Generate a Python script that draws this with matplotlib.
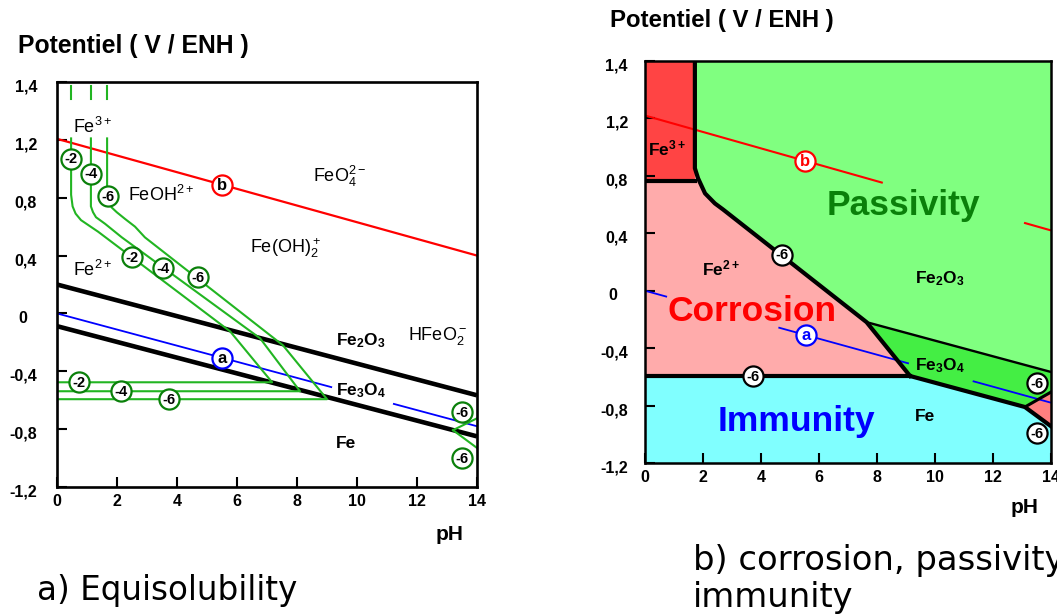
import numpy as np
import matplotlib
matplotlib.use('Agg')
import matplotlib.pyplot as plt
import matplotlib.transforms as mtransforms
from matplotlib.patches import Polygon

plt.rcParams['font.family'] = ['Liberation Sans', 'DejaVu Sans']
plt.rcParams['mathtext.default'] = 'regular'

# ---------------- shared axis values ----------------
ph_ticks = [0, 2, 4, 6, 8, 10, 12, 14]
ph_tick_labels = ['0', '2', '4', '6', '8', '10', '12', '14']
e_ticks = [-1.2, -0.8, -0.4, 0.0, 0.4, 0.8, 1.2, 1.6]
e_tick_labels = ['-1,2', '-0,8', '-0,4', '0', '0,4', '0,8', '1,2', '1,4']

# ---------------- a) Equisolubility ----------------
a_b_ph = [0, 14]
a_b_e = [1.207, 0.40]
a_a_ph = [0, 14]
a_a_e = [0.0, -0.78]
a_a_gaps = [(9.17, 11.2)]
a_ox1_ph = [0, 14]            # Fe2O3 / Fe3O4
a_ox1_e = [0.20, -0.566]
a_ox2_ph = [0, 14]            # Fe3O4 / Fe
a_ox2_e = [-0.088, -0.85]

a_vert_ph = [0.47, 1.13, 1.67]
a_vert_top_e = [1.57, 1.48]

m2_ph = [0.47, 0.47, 0.52, 0.62, 0.80, 1.37, 5.77, 7.17, 0.0]
m2_e = [1.21, 0.82, 0.74, 0.69, 0.645, 0.565, -0.124, -0.476, -0.476]
m4_ph = [1.13, 1.13, 1.20, 1.30, 1.60, 2.16, 6.77, 8.10, 0.0]
m4_e = [1.21, 0.74, 0.70, 0.665, 0.62, 0.526, -0.172, -0.538, -0.538]
m6_ph = [1.67, 1.67, 1.82, 1.99, 2.27, 2.60, 2.93, 7.53, 9.00, 0.0]
m6_e = [1.21, 0.80, 0.733, 0.70, 0.653, 0.60, 0.526, -0.22, -0.593, -0.593]
hfeo2_up_ph = [13.2, 14.0]
hfeo2_up_e = [-0.807, -0.725]
hfeo2_dn_ph = [13.2, 14.0]
hfeo2_dn_e = [-0.807, -0.93]

a_badge_ph = [0.47, 1.13, 1.70, 2.49, 3.54, 4.71, 0.73, 2.13, 3.73, 13.5, 13.5]
a_badge_e = [1.07, 0.966, 0.81, 0.388, 0.312, 0.25, -0.476, -0.538, -0.593, -0.683, -1.0]
a_badge_txt = ['-2', '-4', '-6', '-2', '-4', '-6', '-2', '-4', '-6', '-6', '-6']
a_wb_pos = (5.5, 0.89)
a_wa_pos = (5.5, -0.306)

a_label_txt = [r'Fe$^{3+}$', r'FeOH$^{2+}$', r'FeO$_4^{2-}$', r'Fe(OH)$_2^+$',
               r'Fe$^{2+}$', r'Fe$_2$O$_3$', r'HFeO$_2^-$', r'Fe$_3$O$_4$', 'Fe']
a_label_ph = [0.53, 2.37, 8.53, 6.43, 0.53, 9.3, 11.7, 9.3, 9.3]
a_label_e = [1.25, 0.78, 0.91, 0.42, 0.262, -0.22, -0.186, -0.566, -0.93]
a_label_bold = [False, False, False, False, False, True, False, True, True]

# ---------------- b) corrosion / passivity / immunity ----------------
b_b_ph = [0, 14]
b_b_e = [1.22, 0.42]
b_b_gaps = [(8.2, 13.07)]
b_a_ph = [0, 14]
b_a_e = [0.0, -0.78]
b_a_gaps = [(0.76, 4.6), (9.1, 11.3)]

fe3_poly_ph = [0, 1.72, 1.72, 0]
fe3_poly_e = [0.762, 0.762, 1.6, 1.6]
pass_bound_ph = [1.72, 1.72, 1.83, 2.07, 2.41, 2.69, 7.64, 9.14]
pass_bound_e = [1.6, 0.853, 0.783, 0.678, 0.608, 0.566, -0.219, -0.594]
immun_e = -0.594
fe_bound_ph = [9.14, 13.1, 14.0]
fe_bound_e = [-0.594, -0.81, -0.944]
ox_bound_ph = [7.64, 14.0]
ox_bound_e = [-0.219, -0.566]
hfeo2_top_ph = [13.1, 14.0]
hfeo2_top_e = [-0.81, -0.706]

b_badge_ph = [4.72, 3.72, 13.52, 13.52]
b_badge_e = [0.252, -0.594, -0.643, -0.993]
b_wb_pos = (5.52, 0.905)
b_wa_pos = (5.55, -0.309)

b_label_txt = [r'Fe$^{3+}$', r'Fe$^{2+}$', r'Fe$_2$O$_3$', r'Fe$_3$O$_4$', 'Fe']
b_label_ph = [0.1, 1.97, 9.31, 9.31, 9.31]
b_label_e = [0.944, 0.105, 0.049, -0.552, -0.91]
big_txt = ['Passivity', 'Corrosion', 'Immunity']
big_ph = [6.28, 0.76, 2.52]
big_e = [0.525, -0.21, -0.98]
big_col = ['#0a800a', '#ff0000', '#0000ff']

# ---------------- drawing ----------------
W, H = 1057, 614
fig = plt.figure(figsize=(W / 100, H / 100), dpi=100)


def px_axes(l, t, r, b):
    return fig.add_axes([l / W, 1 - b / H, (r - l) / W, (b - t) / H])


def seg_line(ax, ph, e, gaps, **kw):
    edges = [ph[0]] + [g for gap in gaps for g in gap] + [ph[-1]]
    for i in range(0, len(edges), 2):
        xs = [edges[i], edges[i + 1]]
        ax.plot(xs, np.interp(xs, ph, e), solid_capstyle='butt', **kw)


def badge(ax, x, y, txt, edge, tcol, fs=10.5):
    ax.plot([x], [y], marker='o', ms=14.5, mfc='white', mec=edge, mew=1.6,
            zorder=8, clip_on=False)
    ax.text(x, y - 0.005, txt, ha='center', va='center', fontsize=fs,
            fontweight='bold', color=tcol, zorder=9)


def setup(ax, lw, ylab_right, zero_center):
    ax.set_xlim(0, 14)
    ax.set_ylim(-1.2, 1.6)
    ax.set_xticks(ph_ticks)
    ax.set_xticklabels(ph_tick_labels, fontsize=11.5, fontweight='bold')
    ax.set_yticks(e_ticks)
    ax.tick_params(labelleft=False)
    ax.tick_params(direction='in', length=7, width=1.5, pad=5.2)
    for s in ax.spines.values():
        s.set_linewidth(lw)
        s.set_zorder(10)
    for v, lab in zip(e_ticks, e_tick_labels):
        if lab == '0':
            off = mtransforms.ScaledTranslation(-zero_center / 100, -5 / 100, fig.dpi_scale_trans)
            ha = 'center'
        else:
            off = mtransforms.ScaledTranslation(-ylab_right / 100, -5 / 100, fig.dpi_scale_trans)
            ha = 'right'
        ax.text(0, v, lab, transform=ax.get_yaxis_transform() + off, ha=ha,
                va='center', fontsize=11.5, fontweight='bold')


GREEN = '#22b522'
GREEN_DK = '#0a800a'

# ----- left panel -----
axa = px_axes(57, 82, 477, 487)
setup(axa, 1.9, 20, 34)
axa.plot(a_b_ph, a_b_e, color='#ff0000', lw=1.6)
seg_line(axa, a_a_ph, a_a_e, a_a_gaps, color='#0000ff', lw=1.3)
axa.plot(a_ox1_ph, a_ox1_e, color='black', lw=3.3, solid_capstyle='butt')
axa.plot(a_ox2_ph, a_ox2_e, color='black', lw=3.3, solid_capstyle='butt')
for p in a_vert_ph:
    axa.plot([p, p], a_vert_top_e, color=GREEN, lw=1.5)
for xs, ys in [(m2_ph, m2_e), (m4_ph, m4_e), (m6_ph, m6_e),
               (hfeo2_up_ph, hfeo2_up_e), (hfeo2_dn_ph, hfeo2_dn_e)]:
    axa.plot(xs, ys, color=GREEN, lw=1.5, solid_joinstyle='round')
for x, y, t in zip(a_badge_ph, a_badge_e, a_badge_txt):
    badge(axa, x, y, t, GREEN_DK, 'black')
badge(axa, *a_wb_pos, 'b', '#ff0000', 'black', fs=12)
badge(axa, *a_wa_pos, 'a', '#0000ff', 'black', fs=12)
for t, x, y, bd in zip(a_label_txt, a_label_ph, a_label_e, a_label_bold):
    axa.text(x, y, t, ha='left', va='baseline', fontsize=12.5 if bd else 13,
             fontweight='bold' if bd else 'normal', zorder=7)

# ----- right panel -----
axb = px_axes(645, 61, 1051, 463)
setup(axb, 1.8, 17, 32)
axb.set_facecolor('#80ff80')
corr_ph = [0, 1.72] + pass_bound_ph[1:] + [0]
corr_e = [0.762, 0.762] + pass_bound_e[1:] + [immun_e]
imm_ph = [0, 14] + fe_bound_ph[::-1] + [0]
imm_e = [-1.2, -1.2] + fe_bound_e[::-1] + [immun_e]
fe3o4_ph = [ox_bound_ph[0], ox_bound_ph[1], hfeo2_top_ph[1], fe_bound_ph[1], fe_bound_ph[0]]
fe3o4_e = [ox_bound_e[0], ox_bound_e[1], hfeo2_top_e[1], fe_bound_e[1], fe_bound_e[0]]
hf_ph = [fe_bound_ph[1], hfeo2_top_ph[1], fe_bound_ph[2]]
hf_e = [fe_bound_e[1], hfeo2_top_e[1], fe_bound_e[2]]
for xs, ys, col in [(fe3_poly_ph, fe3_poly_e, '#ff4444'), (corr_ph, corr_e, '#ffabab'),
                    (imm_ph, imm_e, '#80ffff'), (fe3o4_ph, fe3o4_e, '#44ee44'),
                    (hf_ph, hf_e, '#ff8080')]:
    axb.add_patch(Polygon(np.column_stack([xs, ys]), closed=True, facecolor=col,
                          edgecolor='none', zorder=1))
seg_line(axb, b_b_ph, b_b_e, b_b_gaps, color='#ff0000', lw=1.5, zorder=3)
seg_line(axb, b_a_ph, b_a_e, b_a_gaps, color='#0000ff', lw=1.3, zorder=3)
axb.plot(pass_bound_ph, pass_bound_e, color='black', lw=3.0, zorder=4, solid_joinstyle='round')
axb.plot([0, 1.72], [0.762, 0.762], color='black', lw=3.0, zorder=4)
axb.plot([0, pass_bound_ph[-1]], [immun_e, immun_e], color='black', lw=3.0, zorder=4)
axb.plot(fe_bound_ph, fe_bound_e, color='black', lw=3.0, zorder=4)
axb.plot(ox_bound_ph, ox_bound_e, color='black', lw=1.7, zorder=4)
axb.plot(hfeo2_top_ph, hfeo2_top_e, color='black', lw=2.2, zorder=4)
for x, y in zip(b_badge_ph, b_badge_e):
    badge(axb, x, y, '-6', 'black', 'black')
badge(axb, *b_wb_pos, 'b', '#ff0000', '#ff0000', fs=12)
badge(axb, *b_wa_pos, 'a', '#0000ff', '#0000ff', fs=12)
for t, x, y in zip(b_label_txt, b_label_ph, b_label_e):
    axb.text(x, y, t, ha='left', va='baseline', fontsize=12.5, fontweight='bold', zorder=7)
for t, x, y, c in zip(big_txt, big_ph, big_e, big_col):
    axb.text(x, y, t, ha='left', va='baseline', fontsize=25.5, fontweight='bold',
             color=c, zorder=7)

# ----- figure texts -----
fig.text(18 / W, 1 - 46 / H, 'Potentiel ( V / ENH )', ha='left', va='center',
         fontsize=17.8, fontweight='bold')
fig.text(610 / W, 1 - 20 / H, 'Potentiel ( V / ENH )', ha='left', va='center',
         fontsize=17.3, fontweight='bold')
fig.text(450 / W, 1 - 540 / H, 'pH', ha='center', va='baseline', fontsize=15, fontweight='bold')
fig.text(1025 / W, 1 - 513 / H, 'pH', ha='center', va='baseline', fontsize=15, fontweight='bold')
fig.text(37 / W, 1 - 600 / H, 'a) Equisolubility', ha='left', va='baseline',
         fontsize=23.5, family='DejaVu Sans')
fig.text(693 / W, 1 - 570 / H, 'b) corrosion, passivity,', ha='left', va='baseline',
         fontsize=24.3, family='DejaVu Sans')
fig.text(693 / W, 1 - 607 / H, 'immunity', ha='left', va='baseline',
         fontsize=24.3, family='DejaVu Sans')

fig.savefig('out.png', dpi=100)
